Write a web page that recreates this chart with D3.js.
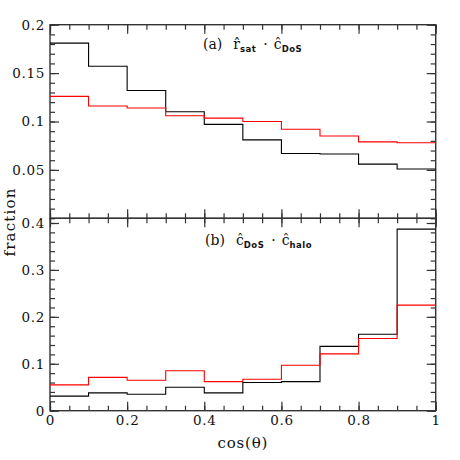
<!DOCTYPE html>
<html>
<head>
<meta charset="utf-8">
<script src="https://cdn.jsdelivr.net/npm/d3@7"></script>
<style>
  body { margin: 0; background: #fff; }
  text { font-family: "DejaVu Serif", serif; fill: #111; }
</style>
</head>
<body>
<svg id="chart"></svg>
<script>
// bin edges in cos(theta)
const binEdges = [0, 0.1, 0.2, 0.3, 0.4, 0.5, 0.6, 0.7, 0.8, 0.9, 1.0];

// panel (a): r_sat . c_DoS
const satBlack = [0.181, 0.157, 0.132, 0.110, 0.097, 0.081, 0.067, 0.0665, 0.056, 0.051];
const satRed   = [0.126, 0.116, 0.114, 0.106, 0.1035, 0.100, 0.092, 0.085, 0.079, 0.078];

// panel (b): c_DoS . c_halo
const haloBlack = [0.031, 0.038, 0.035, 0.050, 0.038, 0.060, 0.062, 0.137, 0.163, 0.387];
const haloRed   = [0.055, 0.071, 0.065, 0.085, 0.062, 0.067, 0.097, 0.121, 0.154, 0.225];

const xMajor = [0, 0.2, 0.4, 0.6, 0.8, 1];
const topMajor = [0.05, 0.1, 0.15, 0.2];
const botMajor = [0, 0.1, 0.2, 0.3, 0.4];

const W = 460, H = 460;
const pLeft = 50, pRight = 435.7, pTop = 24.7, pMid = 218.3, pBottom = 410.7;

const svg = d3.select("#chart").attr("width", W).attr("height", H);

const x = d3.scaleLinear().domain([0, 1]).range([pLeft, pRight]);
const yTop = d3.scaleLinear().domain([0, 0.2]).range([pMid, pTop]);
const yBot = d3.scaleLinear().domain([0, 0.41]).range([pBottom, pMid]);

const fmt = d3.format("~g");
const steps = (a, b, s) => d3.range(Math.floor((b - a) / s + 1e-6) + 1).map(i => +(a + i * s).toFixed(4));

function ticks(g, axis, vals, size, labels) {
  g.call(axis.tickValues(vals).tickSize(size).tickPadding(5)
      .tickFormat(labels ? fmt : () => ""));
  g.select(".domain").remove();
  g.selectAll(".tick line").attr("stroke", "#333").attr("stroke-width", 1.2);
  g.selectAll(".tick text").attr("font-size", 13.5).attr("font-family", "DejaVu Serif")
    .attr("fill", "#1a1a1a").attr("letter-spacing", 0.7);
}

function panel(y, yMajor, yMinorStep, y0, y1, labelsX) {
  const g = svg.append("g");
  // minor + major ticks on all four sides, pointing inward
  const xMinor = steps(0, 1, 0.05);
  const yMinor = steps(0, y.domain()[1], yMinorStep);
  ticks(g.append("g").attr("transform", `translate(0,${y0})`), d3.axisBottom(x), xMinor, -5, false);
  ticks(g.append("g").attr("transform", `translate(0,${y0})`), d3.axisBottom(x), xMajor, -9, labelsX);
  ticks(g.append("g").attr("transform", `translate(0,${y1})`), d3.axisTop(x), xMinor, -5, false);
  ticks(g.append("g").attr("transform", `translate(0,${y1})`), d3.axisTop(x), xMajor, -9, false);
  ticks(g.append("g").attr("transform", `translate(${pLeft},0)`), d3.axisLeft(y), yMinor, -5, false);
  ticks(g.append("g").attr("transform", `translate(${pLeft},0)`), d3.axisLeft(y), yMajor, -9, true);
  ticks(g.append("g").attr("transform", `translate(${pRight},0)`), d3.axisRight(y), yMinor, -5, false);
  ticks(g.append("g").attr("transform", `translate(${pRight},0)`), d3.axisRight(y), yMajor, -9, false);
  g.append("rect").attr("x", pLeft).attr("y", y1).attr("width", pRight - pLeft).attr("height", y0 - y1)
    .attr("fill", "none").attr("stroke", "#333").attr("stroke-width", 1.4);
  return g;
}

function hist(y, vals, color) {
  const pts = binEdges.map((e, i) => [e, vals[Math.min(i, vals.length - 1)]]);
  const line = d3.line().x(d => x(d[0])).y(d => y(d[1])).curve(d3.curveStepAfter);
  svg.append("path").datum(pts).attr("d", line)
    .attr("fill", "none").attr("stroke", color).attr("stroke-width", 1.1);
}

panel(yTop, topMajor, 0.01, pMid, pTop, false);
panel(yBot, botMajor, 0.02, pBottom, pMid, true);

hist(yTop, satBlack, "#000");
hist(yTop, satRed, "#ff0000");
hist(yBot, haloBlack, "#000");
hist(yBot, haloRed, "#ff0000");

// panel annotations
function note(xp, yp, tag, a, aSub, b, bSub) {
  const t = svg.append("text").attr("x", xp).attr("y", yp).attr("font-size", 14);
  const sub = (txt) => t.append("tspan").attr("dy", 3).attr("font-size", 8.5)
    .attr("font-weight", "bold").attr("font-family", "DejaVu Sans").attr("letter-spacing", 0.5).text(txt);
  t.append("tspan").text(tag);
  t.append("tspan").attr("dx", 11).text(a);
  sub(aSub);
  t.append("tspan").attr("dy", -3).attr("dx", 7).text("·");
  t.append("tspan").attr("dx", 6).text(b);
  sub(bSub);
}
note(203, 49, "(a)", "r\u0302", "sat", "c\u0302", "DoS");
note(205, 245, "(b)", "c\u0302", "DoS", "c\u0302", "halo");

// axis titles
svg.append("text").attr("x", (pLeft + pRight) / 2).attr("y", 448).attr("text-anchor", "middle")
  .attr("font-size", 15).attr("letter-spacing", 0.8).text("cos(\u03b8)");
svg.append("text").attr("transform", `translate(15,222) rotate(-90)`)
  .attr("text-anchor", "middle").attr("font-size", 15).attr("letter-spacing", 1.2).text("fraction");
</script>
</body>
</html>
